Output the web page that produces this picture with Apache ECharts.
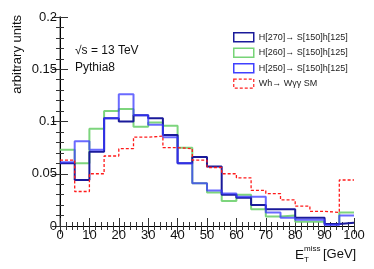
<!DOCTYPE html>
<html><head><meta charset="utf-8">
<script src="https://cdn.jsdelivr.net/npm/echarts@6/dist/echarts.min.js"></script>
<style>html,body{margin:0;padding:0;background:#fff}#c{width:374px;height:269px}</style>
</head><body><div id="c"></div>
<script>
// bin left edges (GeV), bin width 5
var binEdges = [0,5,10,15,20,25,30,35,40,45,50,55,60,65,70,75,80,85,90,95];
var xMax = 100;
var h270 = [0.060,0.044,0.071,0.103,0.100,0.106,0.103,0.087,0.060,0.066,0.057,0.030,0.027,0.020,0.016,0.016,0.008,0.008,0.002,0.003];
var h260 = [0.073,0.060,0.093,0.110,0.112,0.095,0.099,0.096,0.075,0.041,0.032,0.024,0.030,0.016,0.009,0.010,0.004,0.004,0.002,0.013];
var h250 = [0.061,0.081,0.073,0.103,0.126,0.106,0.097,0.085,0.060,0.041,0.034,0.031,0.028,0.028,0.013,0.008,0.006,0.006,0.001,0.010];
var sm   = [0.063,0.033,0.050,0.067,0.074,0.085,0.086,0.075,0.074,0.063,0.056,0.050,0.046,0.034,0.031,0.025,0.019,0.014,0.013,0.044];
var names = ['H[270]\u2192 S[150]h[125]','H[260]\u2192 S[150]h[125]','H[250]\u2192 S[150]h[125]','Wh\u2192 W\u03b3\u03b3 SM'];

function steps(vals){
  var d = binEdges.map(function(e,i){return [e, vals[i]];});
  d.push([xMax, vals[vals.length-1]]);
  return d;
}
var FONT = 'Liberation Sans, Arial, sans-serif';
var chart = echarts.init(document.getElementById('c'), null, {renderer:'canvas'});
var axisCommon = {
  axisLine:{show:true,lineStyle:{color:'#000',width:1}},
  axisTick:{show:true,inside:true,length:8,lineStyle:{color:'#333'}},
  minorTick:{show:true,splitNumber:5,length:4,lineStyle:{color:'#333'}},
  splitLine:{show:false}
};
function ax(extra){ return Object.assign({}, JSON.parse(JSON.stringify(axisCommon)), extra); }
chart.setOption({
  animation:false,
  backgroundColor:'#fff',
  grid:{left:60,right:20,top:17,bottom:43},
  xAxis:[
    ax({type:'value',min:0,max:100,interval:10,position:'bottom',
      axisLabel:{show:true,color:'#111',fontSize:13,fontFamily:FONT,margin:3}}),
    ax({type:'value',min:0,max:100,interval:10,position:'top',axisLabel:{show:false}})
  ],
  yAxis:[
    ax({type:'value',min:0,max:0.2,interval:0.05,position:'left',
      axisLine:{show:true,lineStyle:{color:'#888',width:1.5}},
      axisLabel:{show:true,color:'#111',fontSize:13,fontFamily:FONT,margin:3}}),
    ax({type:'value',min:0,max:0.2,interval:0.05,position:'right',axisLabel:{show:false}})
  ],
  legend:{
    orient:'vertical',left:228,top:27,itemWidth:20,itemHeight:9,itemGap:5,
    icon:'rect',
    textStyle:{fontSize:9,color:'#222',fontFamily:FONT},
    data:[
      {name:names[0],itemStyle:{color:'#fff',borderColor:'#1a1a9a',borderWidth:1.5}},
      {name:names[1],itemStyle:{color:'#fff',borderColor:'#77d477',borderWidth:1.5}},
      {name:names[2],itemStyle:{color:'#fff',borderColor:'#4040ff',borderWidth:1.5}},
      {name:names[3],itemStyle:{color:'#fff',borderColor:'#ff2020',borderWidth:1.2,borderType:[3,2]}}
    ]
  },
  series:[
    {name:names[1],type:'line',step:'end',showSymbol:false,data:steps(h260),
      lineStyle:{color:'#6fd06f',width:2,opacity:0.9},itemStyle:{color:'#6fd06f'},z:2},
    {name:names[0],type:'line',step:'end',showSymbol:false,data:steps(h270),
      lineStyle:{color:'#1a1a9a',width:2},itemStyle:{color:'#1a1a9a'},z:3},
    {name:names[2],type:'line',step:'end',showSymbol:false,data:steps(h250),
      lineStyle:{color:'#3838ff',width:2,opacity:0.75},itemStyle:{color:'#3838ff'},z:4},
    {name:names[3],type:'line',step:'end',showSymbol:false,data:steps(sm),
      lineStyle:{color:'#ff1a1a',width:1.3,type:[3,2]},itemStyle:{color:'#ff1a1a'},z:5}
  ],
  graphic:[
    {type:'text',left:75,top:45,style:{text:'\u221as = 13 TeV',font:'12px '+FONT,fill:'#111'}},
    {type:'text',left:75,top:62,style:{text:'Pythia8',font:'12px '+FONT,fill:'#111'}},
    {type:'text',x:11,y:15,rotation:Math.PI/2,style:{text:'arbitrary units',font:'13px '+FONT,fill:'#111',align:'right',verticalAlign:'top'}},
    {type:'text',x:295,y:248,style:{text:'E',font:'13.5px '+FONT,fill:'#111'}},
    {type:'text',x:304,y:245,style:{text:'miss',font:'8px '+FONT,fill:'#111'}},
    {type:'text',x:304,y:256,style:{text:'T',font:'8px '+FONT,fill:'#111'}},
    {type:'text',x:323,y:248,style:{text:'[GeV]',font:'13px '+FONT,fill:'#111'}}
  ]
});
</script></body></html>
